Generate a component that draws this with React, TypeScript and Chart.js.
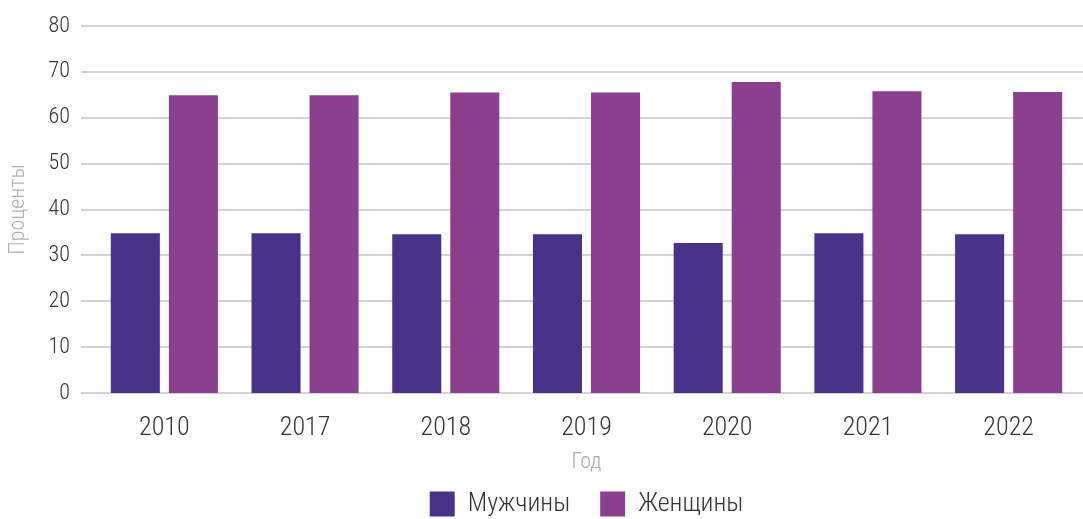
import React, { useEffect, useRef } from "react";
import { Chart, registerables } from "chart.js";

Chart.register(...registerables);

const years = ["2010", "2017", "2018", "2019", "2020", "2021", "2022"];
const men = [34.8, 34.8, 34.6, 34.6, 32.7, 34.8, 34.6];
const women = [64.9, 64.9, 65.5, 65.5, 67.8, 65.8, 65.6];
const seriesNames = ["Мужчины", "Женщины"];
const yTitle = "Проценты";
const xTitle = "Год";

const FONT = "'Roboto Condensed', 'Roboto', sans-serif";

const gridPlugin = {
  id: "customGrid",
  beforeLayout(chart: any) {
    const lg = chart.legend;
    if (lg && !lg._patched) {
      const f = lg.fit.bind(lg);
      lg.fit = function () {
        f();
        this.height = 58;
      };
      lg._patched = true;
    }
  },
  beforeDatasetsDraw(chart: any) {
    const { ctx } = chart;
    const y = chart.scales.y;
    ctx.save();
    ctx.strokeStyle = "#d4d4d4";
    ctx.lineWidth = 2;
    y.ticks.forEach((t: any) => {
      const py = Math.round(y.getPixelForValue(t.value));
      ctx.beginPath();
      ctx.moveTo(81, py);
      ctx.lineTo(chart.width, py);
      ctx.stroke();
    });
    ctx.restore();
  },
};

export default function App() {
  const ref = useRef<HTMLCanvasElement>(null);
  useEffect(() => {
    document.body.style.margin = "0";
    const chart = new Chart(ref.current!, {
      type: "bar",
      data: {
        labels: years,
        datasets: [
          { label: seriesNames[0], data: men, backgroundColor: "#4a3189" },
          { label: seriesNames[1], data: women, backgroundColor: "#8b3f8f" },
        ],
      },
      options: {
        animation: false,
        responsive: false,
        maintainAspectRatio: false,
        layout: { padding: { top: 26, right: 4, left: 0, bottom: 0 } },
        datasets: { bar: { categoryPercentage: 0.825, barPercentage: 0.845 } },
        plugins: {
          legend: {
            position: "bottom",
            fullSize: false,
            labels: {
              boxWidth: 25,
              boxHeight: 25,
              padding: 30,
              color: "#333",
              font: { family: FONT, size: 26, weight: "300" },
            },
          },
          tooltip: { enabled: false },
        },
        scales: {
          y: {
            min: 0,
            max: 80,
            ticks: {
              stepSize: 10,
              padding: 24,
              color: "#333",
              font: { family: FONT, size: 22, weight: "300" },
            },
            grid: { display: false, drawTicks: false },
            border: { display: false },
            title: {
              display: true,
              text: yTitle,
              color: "#b0b0b0",
              padding: { top: 5, bottom: 0 },
              font: { family: FONT, size: 22, weight: "300" },
            },
            afterFit: (s: any) => {
              s.width = 94;
              s.paddingTop = 0;
              s.paddingBottom = 0;
            },
          },
          x: {
            ticks: {
              padding: 20,
              color: "#333",
              font: { family: FONT, size: 26, weight: "300" },
            },
            grid: { display: false, drawTicks: false },
            border: { display: false },
            title: {
              display: true,
              text: xTitle,
              color: "#aaaaaa",
              padding: { top: 0, bottom: -15 },
              font: { family: FONT, size: 22, weight: "300" },
            },
            afterFit: (s: any) => {
              s.height = 68;
              s.paddingLeft = 0;
              s.paddingRight = 0;
            },
          },
        },
      },
      plugins: [gridPlugin],
    });
    return () => chart.destroy();
  }, []);
  return <canvas ref={ref} width={1083} height={519} style={{ display: "block" }} />;
}
